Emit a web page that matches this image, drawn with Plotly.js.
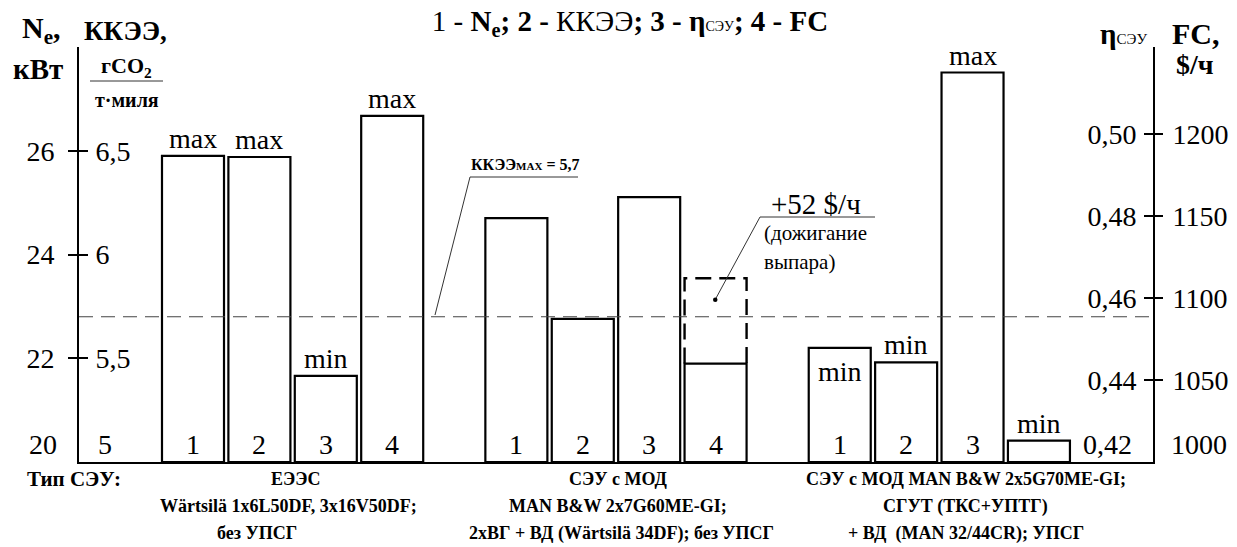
<!DOCTYPE html>
<html><head><meta charset="utf-8">
<script src="https://cdn.plot.ly/plotly-3.0.1.min.js"></script>
<style>html,body{margin:0;padding:0;background:#fff;}</style>
</head><body><div id="chart" style="width:1237px;height:547px;"></div>
<script>
// ---------- data ----------
const groupNames = ["ЕЭЭС", "СЭУ с МОД", "СЭУ с МОД MAN B&W 2x5G70ME-GI"];
const neValues   = [25.9, 24.7, 22.2];      // 1 - Ne, кВт (x1000)
const kkeeValues = [6.47, 5.69, 5.48];      // 2 - ККЭЭ
const etaValues  = [0.441, 0.4846, 0.515];  // 3 - ηСЭУ
const fcValues   = [1211, 1060, 1013];      // 4 - FC, $/ч
const fcBoilOff  = [0, 52, 0];              // + дожигание выпара
const kkeeMax    = 5.7;
const extremes   = [["max","max","min","max"], ["","","",""], ["min","min","max","min"]];
const labelInside= [[false,false,false,false],[false,false,false,false],[true,false,false,false]];
const barNumbers = [["1","2","3","4"], ["1","2","3","4"], ["1","2","3",""]];
const neTicks = [22,24,26],           neTickText = ["22","24","26"];
const kkeeTicks = [5.5,6,6.5],        kkeeTickText = ["5,5","6","6,5"];
const etaTicks = [0.44,0.46,0.48,0.50], etaTickText = ["0,44","0,46","0,48","0,50"];
const fcTicks = [1050,1100,1150,1200],  fcTickText = ["1050","1100","1150","1200"];
const neBase = 20, kkeeBase = 5, etaBase = 0.42, fcBase = 1000;
const etaBaseText = "0,42";

// ---------- layout helpers ----------
const FONT = '"Liberation Serif", "Times New Roman", Times, serif';
const GROUP_STEP = 4.87, BAR_W = 0.934;
const xPos = (g, k) => g * GROUP_STEP + k;
const L = 79, R = 1153, T = 47, B = 462;
const PX = px => (px - L) / (R - L);
const PY = py => (B - py) / (B - T);
const fcTop = 1253.05;
const etaTop = etaBase + (fcTop - fcBase) / 2500;

const seriesDefs = [
  {vals: neValues, base: neBase, axis: 'y'},
  {vals: kkeeValues, base: kkeeBase, axis: 'y2'},
  {vals: etaValues, base: etaBase, axis: 'y3'},
  {vals: fcValues, base: fcBase, axis: 'y4'}
];

const traces = seriesDefs.map((s, k) => ({
  type: 'bar',
  x: s.vals.map((v, g) => xPos(g, k)),
  y: s.vals.map(v => v - s.base),
  base: s.base,
  width: BAR_W,
  yaxis: s.axis,
  marker: {color: '#ffffff', line: {color: '#000', width: 2.2}},
  hoverinfo: 'skip', showlegend: false
}));

// dashed extension (дожигание выпара)
const dX = [], dY = [];
fcBoilOff.forEach((d, g) => {
  if (d > 0) {
    const xc = xPos(g, 3);
    dX.push(xc - BAR_W/2, xc - BAR_W/2, xc + BAR_W/2, xc + BAR_W/2, null);
    dY.push(fcValues[g], fcValues[g] + d, fcValues[g] + d, fcValues[g], null);
  }
});
traces.push({type: 'scatter', mode: 'lines', x: dX, y: dY, yaxis: 'y4',
  line: {color: '#000', width: 2.4, dash: '16px,8px'}, hoverinfo: 'skip', showlegend: false});

const ann = [];
// extremes labels
seriesDefs.forEach((s, k) => {
  s.vals.forEach((v, g) => {
    const t = extremes[g][k];
    if (!t) return;
    const inside = labelInside[g][k];
    ann.push({x: xPos(g, k), y: v, xref: 'x', yref: s.axis, text: t, showarrow: false,
      yanchor: inside ? 'top' : 'bottom', yshift: inside ? -6 : 0,
      font: {family: FONT, size: 28, color: '#000'}});
  });
});
// bar numbers
barNumbers.forEach((row, g) => {
  row.forEach((n, k) => {
    if (!n) return;
    ann.push({x: xPos(g, k), y: 0, xref: 'x', yref: 'paper', text: n, showarrow: false,
      yanchor: 'bottom', yshift: 0, font: {family: FONT, size: 28, color: '#000'}});
  });
});
// bottom axis values
const bot = (text, x, xanchor, xshift) => ann.push({x, y: 0, xref: 'paper', yref: 'paper', text,
  showarrow: false, xanchor, yanchor: 'bottom', xshift, font: {family: FONT, size: 28, color: '#000'}});
bot(String(neBase), 0, 'right', -20);
bot(String(kkeeBase), 0, 'left', 17);
bot(etaBaseText, 1, 'right', -19);
bot(String(fcBase), 1, 'left', 16);

const txt = (text, px, py, size, xanchor) => ann.push({x: PX(px), y: PY(py), xref: 'paper', yref: 'paper',
  text, showarrow: false, xanchor: xanchor || 'center', yanchor: 'middle',
  font: {family: FONT, size, color: '#000'}});
// axis headers
txt("<b>N<sub>e</sub>,</b>", 41, 30, 30);
txt("<b>кВт</b>", 38, 69, 29);
txt("<b>ККЭЭ,</b>", 125, 31, 27);
txt("<b>гСО<sub>2</sub></b>", 126, 67, 22);
txt("<b>т·миля</b>", 127, 100, 20);
txt("<b>η</b><span style='font-size:15px'>СЭУ</span>", 1123, 34, 29);
txt("<b>FC,</b>", 1196, 34, 30);
txt("<b>$/ч</b>", 1195, 64, 28);
// annotations in plot
txt("<b>ККЭЭ<span style='font-size:11px'>MAX</span> = 5,7</b>", 525, 164, 16);
txt("+52 $/ч", 816, 204, 29);
txt("(дожигание", 762, 233, 21, 'left');
txt("выпара)", 762, 262, 21, 'left');
// bottom captions
txt("<b>Тип СЭУ:</b>", 25, 479, 21, 'left');
txt("<b>ЕЭЭС</b>", 295, 479, 18);
txt("<b>Wärtsilä 1x6L50DF, 3x16V50DF;</b>", 288, 506, 18);
txt("<b>без УПСГ</b>", 257, 533, 18);
txt("<b>СЭУ с МОД</b>", 618, 479, 18);
txt("<b>MAN B&W 2x7G60ME-GI;</b>", 618, 506, 18);
txt("<b>2xВГ + ВД (Wärtsilä 34DF); без УПСГ</b>", 621, 533, 18);
txt("<b>СЭУ с МОД MAN B&W 2x5G70ME-GI;</b>", 966, 479, 18);
txt("<b>СГУТ (ТКС+УПТГ)</b>", 965, 506, 18);
txt("<b>+ ВД  (MAN 32/44CR); УПСГ</b>", 966, 533, 18);

const path = pts => 'M ' + pts.map(p => PX(p[0]) + ' ' + PY(p[1])).join(' L ');
const shapes = [
  {type: 'line', xref: 'paper', yref: 'y2', x0: 0, x1: 1, y0: kkeeMax, y1: kkeeMax,
   line: {color: '#444', width: 1.2, dash: '14px,8px'}, layer: 'above'},
  {type: 'path', xref: 'paper', yref: 'paper', path: path([[435,315],[470,177],[578,177]]),
   line: {color: '#333', width: 1}},
  {type: 'path', xref: 'paper', yref: 'paper', path: path([[715,300],[760,217],[875,217]]),
   line: {color: '#333', width: 1}},
  {type: 'circle', xref: 'paper', yref: 'paper', x0: PX(713), x1: PX(717.5), y0: PY(302), y1: PY(297.5),
   fillcolor: '#000', line: {color: '#000', width: 0}},
  {type: 'line', xref: 'paper', yref: 'paper', x0: PX(90), x1: PX(163), y0: PY(81), y1: PY(81),
   line: {color: '#333', width: 1}}
];

const axFont = {family: FONT, size: 28, color: '#000'};
const baseY = {showgrid: false, zeroline: false, fixedrange: true, automargin: false,
  tickfont: axFont, tickwidth: 2, tickcolor: '#000', ticklen: 9, tickmode: 'array'};

const layout = {
  width: 1237, height: 547,
  margin: {l: L, r: 1237 - R, t: T, b: 547 - B, pad: 0},
  paper_bgcolor: '#fff', plot_bgcolor: '#fff',
  barmode: 'overlay', showlegend: false,
  font: {family: FONT, color: '#000'},
  title: {text: "1 - <b>N<sub>e</sub>; 2 - </b>ККЭЭ<b>; 3 - η</b><span style='font-size:14px'>СЭУ</span><b>; 4 - FC</b>",
    x: 630/1237, xref: 'container', xanchor: 'center', y: 1 - 21/547, yref: 'container', yanchor: 'middle',
    font: {family: FONT, size: 29, color: '#000'}},
  xaxis: {range: [-(193 - L)/66.4, (R - 193)/66.4], showticklabels: false, showgrid: false, zeroline: false,
    showline: true, linecolor: '#000', linewidth: 2, ticks: '', fixedrange: true},
  yaxis: Object.assign({}, baseY, {range: [neBase, 28], side: 'left', showline: true, linecolor: '#000', linewidth: 2,
    ticks: 'outside', tickvals: neTicks, ticktext: neTickText, ticklabelstandoff: 8}),
  yaxis2: Object.assign({}, baseY, {range: [kkeeBase, 7], side: 'left', overlaying: 'y', anchor: 'x', showline: false,
    ticks: 'inside', tickvals: kkeeTicks, ticktext: kkeeTickText, ticklabelposition: 'inside', ticklabelstandoff: 10}),
  yaxis3: Object.assign({}, baseY, {range: [etaBase, etaTop], side: 'right', overlaying: 'y', anchor: 'x', showline: true,
    linecolor: '#000', linewidth: 2, ticks: 'inside', tickvals: etaTicks, ticktext: etaTickText, ticklabelposition: 'inside', ticklabelstandoff: 10}),
  yaxis4: Object.assign({}, baseY, {range: [fcBase, fcTop], side: 'right', overlaying: 'y', anchor: 'x', showline: false,
    ticks: 'outside', tickvals: fcTicks, ticktext: fcTickText, ticklabelstandoff: 4}),
  annotations: ann,
  shapes: shapes
};

Plotly.newPlot('chart', traces, layout, {staticPlot: true, displayModeBar: false});
</script></body></html>
